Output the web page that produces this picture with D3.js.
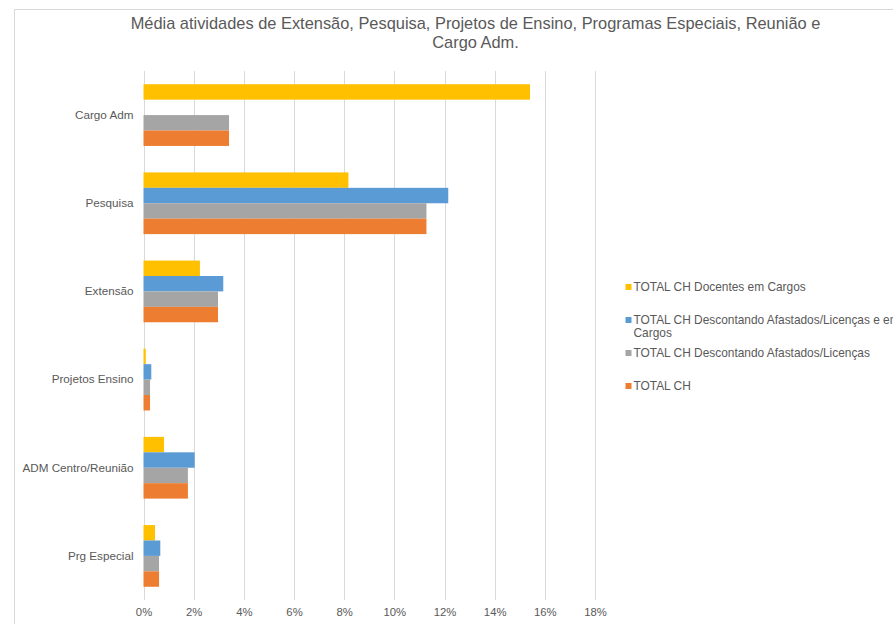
<!DOCTYPE html>
<html>
<head>
<meta charset="utf-8">
<script src="https://cdn.jsdelivr.net/npm/d3@7"></script>
<style>
  body { margin: 0; background: #fff; }
  svg { display: block; font-family: "Liberation Sans", Arial, sans-serif; }
</style>
</head>
<body>
<div id="chart"></div>
<script>
// categories top to bottom
var categories = ["Cargo Adm", "Pesquisa", "Extensão", "Projetos Ensino", "ADM Centro/Reunião", "Prg Especial"];

// series, in the order they are stacked inside each group (top to bottom)
var seriesNames = [
  "TOTAL CH Docentes em Cargos",
  "TOTAL CH Descontando Afastados/Licenças e em Cargos",
  "TOTAL CH Descontando Afastados/Licenças",
  "TOTAL CH"
];
var seriesColors = ["#FFC000", "#5B9BD5", "#A5A5A5", "#ED7D31"];

var docentesCargos   = [0.1541, 0.0817, 0.0225, 0.0009, 0.0082, 0.0046];
var descAfastCargos  = [0,      0.1215, 0.0318, 0.0031, 0.0204, 0.0067];
var descAfast        = [0.0341, 0.1128, 0.0297, 0.0026, 0.0177, 0.0062];
var totalCH          = [0.0341, 0.1128, 0.0297, 0.0026, 0.0177, 0.0062];

var seriesValues = [docentesCargos, descAfastCargos, descAfast, totalCH];

var tickValues = [0, 0.02, 0.04, 0.06, 0.08, 0.10, 0.12, 0.14, 0.16, 0.18];

var titleLines = ["Média atividades de Extensão, Pesquisa, Projetos de Ensino, Programas Especiais, Reunião e", "Cargo Adm."];

var W = 893, H = 624;
var plot = {left: 143.5, right: 595, top: 71, bottom: 600};
var textColor = "#595959", gridColor = "#D9D9D9";

var svg = d3.select("#chart").append("svg")
  .attr("width", W).attr("height", H);

// chart frame (runs off the right and bottom edges)
svg.append("rect")
  .attr("x", 14.5).attr("y", 9.5)
  .attr("width", W).attr("height", H)
  .attr("fill", "none").attr("stroke", gridColor);

// title
svg.append("g").selectAll("text")
  .data(titleLines).enter().append("text")
  .attr("x", 475.5).attr("y", function(d, i) { return 29 + i * 18.5; })
  .attr("text-anchor", "middle")
  .attr("font-size", "16.4px")
  .attr("fill", textColor)
  .text(function(d) { return d; });

var x = d3.scaleLinear().domain([0, 0.18]).range([plot.left, plot.right]);

var y = d3.scaleBand().domain(categories)
  .range([plot.top, plot.bottom])
  .paddingInner(0.3).paddingOuter(0.15);

var ySub = d3.scaleBand().domain(d3.range(seriesNames.length))
  .range([0, y.bandwidth()]);

// gridlines + tick labels
var xAxis = d3.axisBottom(x)
  .tickValues(tickValues)
  .tickSize(-(plot.bottom - plot.top))
  .tickPadding(8)
  .tickFormat(d3.format(".0%"));

var gx = svg.append("g")
  .attr("transform", "translate(0," + plot.bottom + ")")
  .call(xAxis);
gx.select(".domain").remove();
gx.selectAll("line").attr("stroke", gridColor).attr("shape-rendering", "crispEdges");
gx.selectAll("text").attr("fill", textColor).attr("font-size", "11.3px")
  .attr("font-family", "Liberation Sans, Arial, sans-serif");

// category labels
var yAxis = d3.axisLeft(y).tickSize(0).tickPadding(10);
var gy = svg.append("g")
  .attr("transform", "translate(" + plot.left + ",0)")
  .call(yAxis);
gy.select(".domain").remove();
gy.selectAll("text").attr("fill", textColor).attr("font-size", "11.7px")
  .attr("font-family", "Liberation Sans, Arial, sans-serif");

// bars
var groups = svg.append("g").selectAll("g")
  .data(categories).enter().append("g")
  .attr("transform", function(d) { return "translate(0," + y(d) + ")"; });

groups.selectAll("rect")
  .data(function(d, ci) {
    return seriesValues.map(function(vals, si) { return {s: si, v: vals[ci]}; });
  })
  .enter().append("rect")
  .attr("x", x(0))
  .attr("y", function(d) { return ySub(d.s); })
  .attr("width", function(d) { return x(d.v) - x(0); })
  .attr("height", ySub.bandwidth())
  .attr("fill", function(d) { return seriesColors[d.s]; });

// legend
var legendY = [287, 320, 353, 386];
var legend = svg.append("g");
seriesNames.forEach(function(name, i) {
  var g = legend.append("g").attr("transform", "translate(625.5," + legendY[i] + ")");
  g.append("rect").attr("x", 0).attr("y", -3).attr("width", 6).attr("height", 6)
    .attr("fill", seriesColors[i]);
  var t = g.append("text").attr("x", 8).attr("y", 4)
    .attr("font-size", "11.9px").attr("fill", textColor);
  // simple word wrap
  var words = name.split(" "), line = [];
  var tspan = t.append("tspan").attr("x", 8).attr("dy", 0);
  words.forEach(function(w) {
    line.push(w);
    tspan.text(line.join(" "));
    if (tspan.node().getComputedTextLength() > 285 && line.length > 1) {
      line.pop();
      tspan.text(line.join(" "));
      line = [w];
      tspan = t.append("tspan").attr("x", 8).attr("dy", "13").text(w);
    }
  });
});
</script>
</body>
</html>
